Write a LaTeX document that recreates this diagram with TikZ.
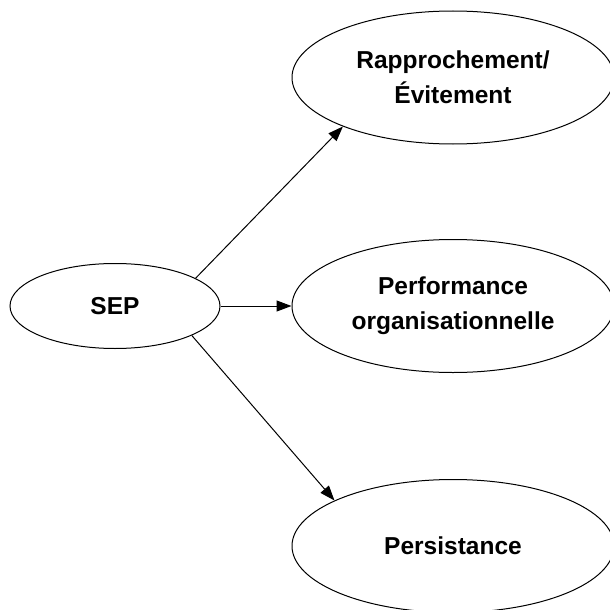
\documentclass[tikz,border=0pt]{standalone}
\usepackage{fontspec}
\setmainfont{Liberation Sans}
\usetikzlibrary{shapes.geometric,arrows.meta}
\begin{document}
\begin{tikzpicture}[x=1pt,y=-1pt,
  oval/.style={ellipse,draw,line width=1pt,inner sep=0pt,align=center,
    font=\fontsize{24.5}{35}\selectfont\bfseries},
  big/.style={oval,minimum width=322,minimum height=133},
  arr/.style={line width=1pt,-{Triangle[length=15pt,width=11pt]}}]
\useasboundingbox (0,0) rectangle (610,610);
\node[oval,minimum width=210,minimum height=85] (sep) at (115,306) {SEP};
\node[big] (rap) at (453,77.5) {Rapprochement/\\Évitement};
\node[big] (perf) at (453,306) {Performance\\organisationnelle};
\node[big] (pers) at (453,546) {Persistance};
\draw[arr] (sep.19.2) -- (rap.204);
\draw[arr] (sep.east) -- (perf.west);
\draw[arr] (sep.-21) -- (pers.159);
\end{tikzpicture}
\end{document}
